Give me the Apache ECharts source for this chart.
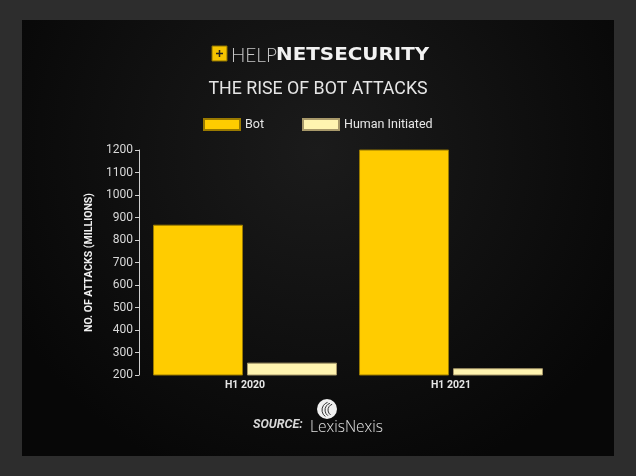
<!DOCTYPE html>
<html>
<head>
<meta charset="utf-8">
<script src="https://cdn.jsdelivr.net/npm/echarts@6/dist/echarts.min.js"></script>
<style>html,body{margin:0;padding:0;background:#2d2d2d;}#c{width:636px;height:476px;}</style>
</head>
<body>
<div id="c"></div>
<script>
var categories = ['H1 2020', 'H1 2021'];
var botValues = [868, 1202];
var humanValues = [255, 230];
var seriesNames = ['Bot', 'Human Initiated'];
var yTicks = { min: 200, max: 1200, interval: 100 };

var chart = echarts.init(document.getElementById('c'), null, { renderer: 'canvas' });

var option = {
  backgroundColor: '#2d2d2d',
  animation: false,
  graphic: [
    { type: 'rect', z: -10, shape: { x: 22, y: 20, width: 592, height: 436 },
      style: { fill: { type: 'radial', x: 0.5, y: 0.3, r: 0.8,
        colorStops: [{ offset: 0, color: '#1b1b1b' }, { offset: 1, color: '#070707' }] } } },
    // logo square
    { type: 'rect', shape: { x: 212, y: 46, width: 15, height: 15 },
      style: { fill: '#f5c400', stroke: '#8a7000', lineWidth: 1 } },
    { type: 'line', shape: { x1: 219.5, y1: 50, x2: 219.5, y2: 57 }, style: { stroke: '#222', lineWidth: 1.5 } },
    { type: 'line', shape: { x1: 216, y1: 53.5, x2: 223, y2: 53.5 }, style: { stroke: '#222', lineWidth: 1.5 } },
    { type: 'text', x: 231, y: 46,
      style: { text: 'HELP', fontFamily: 'Lato', fontWeight: 300, fontSize: 19, fill: '#c8c8c8' } },
    { type: 'text', x: 276, y: 47, scaleX: 1.17,
      style: { text: 'NETSECURITY', fontFamily: 'DejaVu Sans', fontWeight: 'bold', fontSize: 17, fill: '#f2f2f2' } },
    { type: 'text', left: 'center', top: 81,
      style: { text: 'THE RISE OF BOT ATTACKS', fontFamily: 'Roboto', fontSize: 17.8, fill: '#e6e6e6' } },
    // source
    { type: 'text', left: 253, top: 418,
      style: { text: 'SOURCE:', fontFamily: 'Roboto', fontStyle: 'italic', fontWeight: 'bold', fontSize: 12.5, fill: '#d8d8d8' } },
    { type: 'circle', shape: { cx: 327, cy: 409, r: 10 }, style: { fill: '#f0f0f0' } },
    { type: 'arc', shape: { cx: 330, cy: 410, r: 8, startAngle: 2.2, endAngle: 4.4 }, style: { stroke: '#333', lineWidth: 1, fill: null } },
    { type: 'arc', shape: { cx: 332, cy: 410, r: 7, startAngle: 2.2, endAngle: 4.4 }, style: { stroke: '#333', lineWidth: 1, fill: null } },
    { type: 'arc', shape: { cx: 334, cy: 410, r: 6, startAngle: 2.2, endAngle: 4.4 }, style: { stroke: '#333', lineWidth: 1, fill: null } },
    { type: 'text', left: 310, top: 420,
      style: { text: 'LexisNexis', fontFamily: 'Open Sans', fontWeight: 300, fontSize: 15.5, fill: '#e0e0e0' } }
  ],
  legend: {
    left: 203, top: 118, padding: 0,
    itemWidth: 36, itemHeight: 11, itemGap: 38,
    icon: 'rect',
    textStyle: { color: '#e6e6e6', fontFamily: 'Roboto', fontSize: 12.5 },
    data: seriesNames
  },
  grid: { left: 142, right: 82, top: 150, bottom: 101 },
  xAxis: {
    type: 'category',
    data: categories,
    axisLine: { show: false },
    axisTick: { show: false },
    axisLabel: { color: '#e6e6e6', fontFamily: 'Roboto', fontWeight: 'bold', fontSize: 10.5, margin: 5 }
  },
  yAxis: {
    type: 'value',
    min: yTicks.min, max: yTicks.max, interval: yTicks.interval,
    offset: 3,
    name: 'NO. OF ATTACKS (MILLIONS)',
    nameLocation: 'middle',
    nameGap: 42,
    nameRotate: 90,
    nameTextStyle: { color: '#f0f0f0', fontFamily: 'Roboto', fontWeight: 'bold', fontSize: 10.5 },
    axisLine: { show: true, lineStyle: { color: '#cfcfcf', width: 1 } },
    axisTick: { show: true, length: 4, lineStyle: { color: '#cfcfcf' } },
    splitLine: { show: false },
    axisLabel: { color: '#d8d8d8', fontFamily: 'Roboto', fontSize: 12, margin: 6,
      formatter: function (v) { return String(v); } }
  },
  series: [
    { name: seriesNames[0], type: 'bar', data: botValues, barWidth: 90, barGap: '4.4%',
      itemStyle: { color: '#ffcc00', borderColor: '#9a7a00', borderWidth: 1 } },
    { name: seriesNames[1], type: 'bar', data: humanValues, barWidth: 90,
      itemStyle: { color: '#fff4b0', borderColor: '#a8996a', borderWidth: 1 } }
  ]
};
chart.setOption(option);
</script>
</body>
</html>
